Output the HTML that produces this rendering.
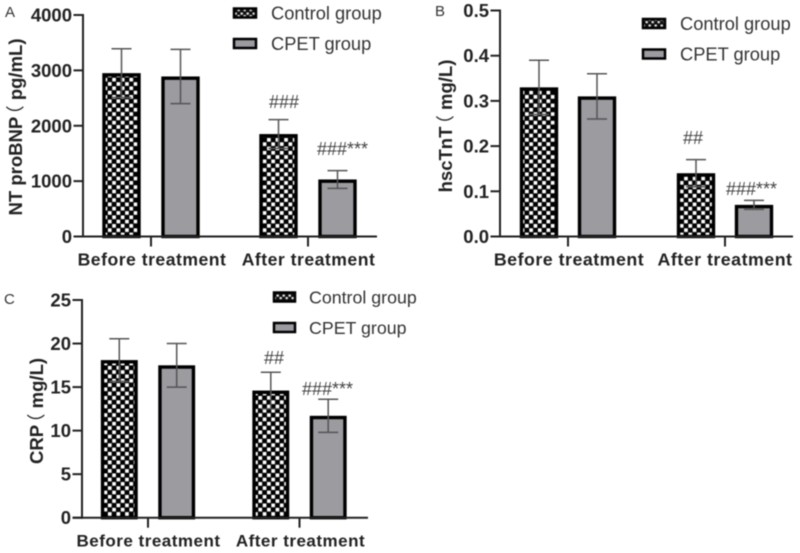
<!DOCTYPE html>
<html lang="en">
<head>
<meta charset="utf-8">
<title>Control vs CPET group biomarkers</title>
<style>
html,body{margin:0;padding:0;background:#fff;width:800px;height:553px;overflow:hidden}
svg{display:block;filter:blur(0.45px)}
text{font-family:"Liberation Sans","Noto Sans CJK SC",sans-serif}
.tick{font-weight:700;font-size:18.5px;fill:#222}
.cat{font-weight:700;fill:#222;letter-spacing:.5px}
.ttl{font-weight:700;font-size:18.5px;fill:#222}
.leg{fill:#333}
.ann{font-size:18px;fill:#444}
.plabel{font-size:15px;fill:#333}
</style>
</head>
<body>
<svg id="fig" xmlns="http://www.w3.org/2000/svg" width="800" height="553" viewBox="0 0 800 553">
<defs>
<pattern id="check" patternUnits="userSpaceOnUse" width="8.6" height="8.6">
<rect width="8.6" height="8.6" fill="#000"/>
<rect x="0.4" y="0.4" width="3.7" height="3.7" fill="#fff"/>
<rect x="4.7" y="4.7" width="3.7" height="3.7" fill="#fff"/>
</pattern>
<pattern id="checkLegend" patternUnits="userSpaceOnUse" width="6" height="6">
<rect width="6" height="6" fill="#111"/>
<rect x="0.5" y="0.5" width="2.4" height="2.2" fill="#ddd"/>
<rect x="3.5" y="3" width="2.4" height="2.2" fill="#ddd"/>
</pattern>
</defs>
</svg>
<script>
const categories = ['Before treatment', 'After treatment'];
const seriesNames = ['Control group', 'CPET group'];

const ticksA = ['0', '1000', '2000', '3000', '4000'];
const controlA = [2950, 1850];
const cpetA = [2890, 1030];
const controlErrA = [440, 260];
const cpetErrA = [490, 160];

const ticksB = ['0.0', '0.1', '0.2', '0.3', '0.4', '0.5'];
const controlB = [0.33, 0.14];
const cpetB = [0.31, 0.07];
const controlErrB = [0.06, 0.03];
const cpetErrB = [0.05, 0.01];

const ticksC = ['0', '5', '10', '15', '20', '25'];
const controlC = [18.1, 14.6];
const cpetC = [17.5, 11.7];
const controlErrC = [2.45, 2.1];
const cpetErrC = [2.5, 1.9];

const annotationsA = ['###', '###***'];
const annotationsB = ['##', '###***'];
const annotationsC = ['##', '###***'];

const svg = document.getElementById('fig');
const NS = 'http://www.w3.org/2000/svg';

function mk(tag, attrs, txt) {
  const el = document.createElementNS(NS, tag);
  for (const k in attrs) el.setAttribute(k, attrs[k]);
  if (txt !== undefined) el.textContent = txt;
  svg.appendChild(el);
  return el;
}

function drawPanel(p) {
  const y = v => p.y0 + (p.yTop - p.y0) * (v / p.max);
  const groupX = i => p.g0 + (p.g1 - p.g0) * i;
  const barX = (i, s) => groupX(i) + (s === 0 ? -p.off : p.off);
  const sw = 3.4;

  // bars and error bars
  [p.control, p.cpet].forEach((vals, s) => {
    const errs = s === 0 ? p.controlErr : p.cpetErr;
    vals.forEach((v, i) => {
      const cx = barX(i, s);
      const top = y(v) + sw / 2;
      const bar = mk('rect', {
        x: cx - p.bw / 2, y: top, width: p.bw, height: p.y0 - top,
        fill: s === 0 ? 'url(#check)' : '#9b9ba0', stroke: '#000', 'stroke-width': sw
      });
      
      
      const e = errs[i];
      const err = mk('path', {
        d: 'M' + cx + ' ' + y(v + e) + 'V' + y(v - e) +
           'M' + (cx - 10) + ' ' + y(v + e) + 'H' + (cx + 10) +
           'M' + (cx - 10) + ' ' + y(v - e) + 'H' + (cx + 10),
        fill: 'none', stroke: '#555', 'stroke-width': 1.5
      });
      
      
    });
  });

  // axes
  const yAxis = mk('line', { x1: p.ax, x2: p.ax, y1: p.yTop - 1, y2: p.y0 + 1, stroke: '#222', 'stroke-width': 2 });
  
  
  const xAxis = mk('line', { x1: p.ax - 9.5, x2: p.axEnd, y1: p.y0, y2: p.y0, stroke: '#222', 'stroke-width': 2 });
  
  

  // y ticks
  p.ticks.forEach((t, i) => {
    const v = p.max * i / (p.ticks.length - 1);
    const tm = mk('line', { x1: p.ax - 9.5, x2: p.ax, y1: y(v), y2: y(v), stroke: '#222', 'stroke-width': 2 });
    
    
    const lb = mk('text', { x: p.ax - 11, y: y(v) + 6.5, 'text-anchor': 'end', class: 'tick' }, t);
    
    
  });

  // x ticks and category labels
  categories.forEach((c, i) => {
    const tm = mk('line', { x1: groupX(i), x2: groupX(i), y1: p.y0, y2: p.y0 + 10, stroke: '#222', 'stroke-width': 2 });
    
    
    const lb = mk('text', { x: p.catX[i], y: p.y0 + 29, 'text-anchor': 'middle', class: 'cat', 'font-size': p.catSize }, c);
    
    
  });

  // y title: full-width bracket drawn thin and pulled toward the preceding word
  const tt = mk('text', {
    transform: 'translate(' + p.titleX + ' ' + p.titleY + ') rotate(-90)',
    'text-anchor': 'middle', class: 'ttl'
  });
  
  
  const parts = p.title.split('（');
  const t1 = document.createElementNS(NS, 'tspan');
  t1.textContent = parts[0];
  tt.appendChild(t1);
  const t2 = document.createElementNS(NS, 'tspan');
  t2.setAttribute('dx', '-7');
  t2.setAttribute('font-weight', '400');
  t2.textContent = '（';
  tt.appendChild(t2);
  const t3 = document.createElementNS(NS, 'tspan');
  t3.textContent = parts[1];
  tt.appendChild(t3);

  // panel letter
  const pl = mk('text', { x: p.letterX, y: p.letterY, class: 'plabel' }, p.id.toUpperCase());
  
  

  // legend
  seriesNames.forEach((n, i) => {
    const ly = p.legY[i];
    const swatch = mk('rect', {
      x: p.legX + 1, y: ly - 4.5, width: p.legW - 2, height: 9,
      fill: i === 0 ? 'url(#checkLegend)' : '#9b9ba0', stroke: '#000', 'stroke-width': 2.5
    });
    
    
    const lb = mk('text', { x: p.legTextX, y: ly + 6.5, class: 'leg', 'font-size': p.legSize }, n);
    
    
  });

  // significance annotations
  p.ann.forEach((a, i) => {
    const an = mk('text', { x: p.annX[i], y: p.annY[i], class: 'ann' }, a);
    
    
  });
}

drawPanel({
  id: 'a', control: controlA, cpet: cpetA, controlErr: controlErrA, cpetErr: cpetErrA,
  ticks: ticksA, max: 4000, ann: annotationsA, title: 'NT proBNP（ pg/mL)',
  ax: 83, axEnd: 377, y0: 236.5, yTop: 15, g0: 151, g1: 308, off: 29.5, bw: 35,
  catX: [152, 308.5], catSize: 17.6, titleX: 22, titleY: 127, letterX: 5, letterY: 17,
  legX: 233, legW: 24, legY: [13, 43.5], legTextX: 271, legSize: 18.3,
  annX: [269, 317], annY: [108, 155]
});
drawPanel({
  id: 'b', control: controlB, cpet: cpetB, controlErr: controlErrB, cpetErr: cpetErrB,
  ticks: ticksB, max: 0.5, ann: annotationsB, title: 'hscTnT（ mg/L)',
  ax: 500, axEnd: 793, y0: 236.5, yTop: 10.5, g0: 568, g1: 725, off: 29, bw: 35,
  catX: [569, 725], catSize: 17.8, titleX: 452, titleY: 126, letterX: 435, letterY: 16,
  legX: 642, legW: 24, legY: [23.5, 54], legTextX: 680, legSize: 18.3,
  annX: [683, 726], annY: [144, 195]
});
drawPanel({
  id: 'c', control: controlC, cpet: cpetC, controlErr: controlErrC, cpetErr: cpetErrC,
  ticks: ticksC, max: 25, ann: annotationsC, title: 'CRP（ mg/L)',
  ax: 82, axEnd: 368, y0: 517.7, yTop: 300, g0: 148, g1: 299.5, off: 28.7, bw: 33.5,
  catX: [148.5, 300.5], catSize: 17, titleX: 43, titleY: 411, letterX: 4, letterY: 304,
  legX: 273, legW: 23, legY: [297, 327.5], legTextX: 309, legSize: 17.8,
  annX: [264, 302], annY: [364, 395]
});
</script>
</body>
</html>
